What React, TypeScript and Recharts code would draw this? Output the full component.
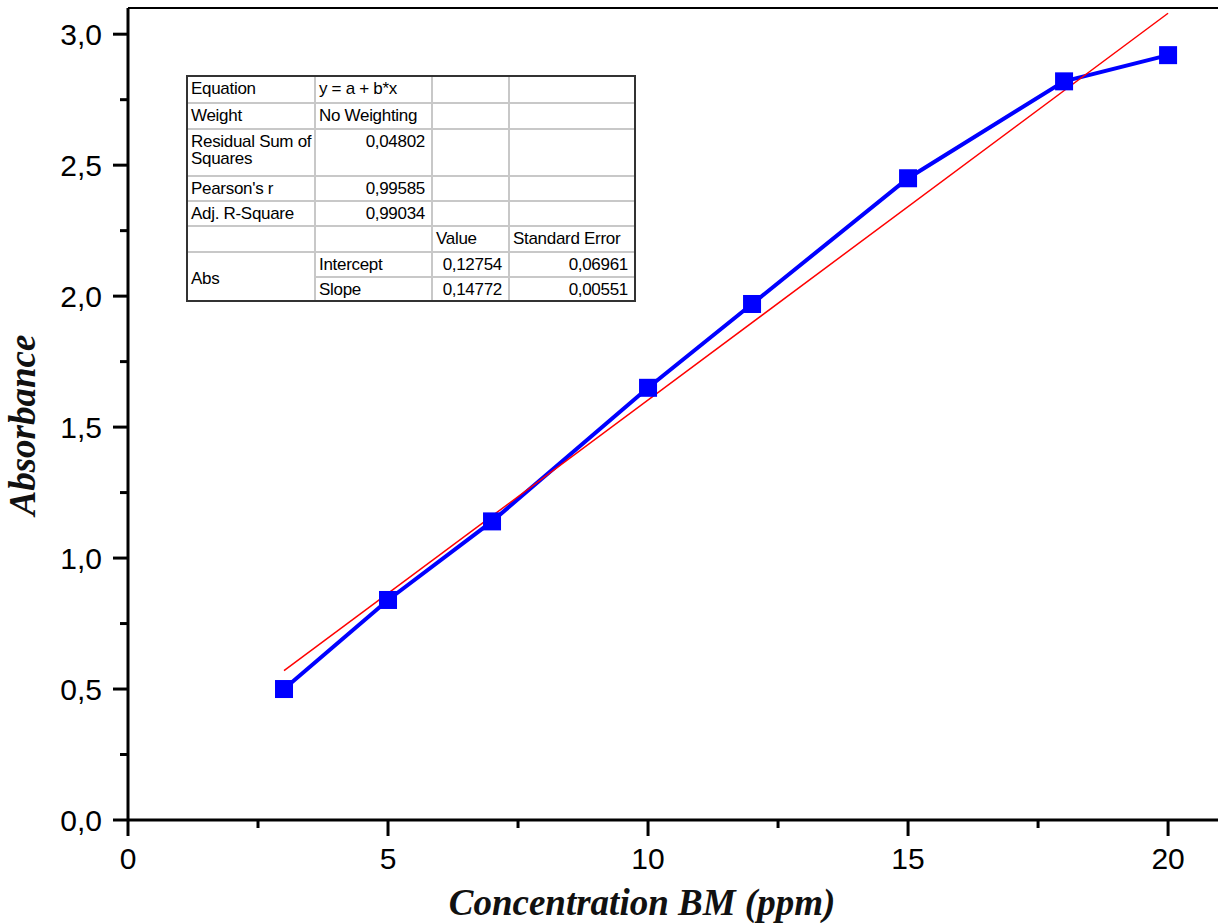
import { ComposedChart, Line, XAxis, YAxis, ReferenceLine } from 'recharts';

// measured points
const concentration = [3, 5, 7, 10, 12, 15, 18, 20];
const absorbance = [0.5, 0.84, 1.14, 1.65, 1.97, 2.45, 2.82, 2.92];

// linear fit line, ends
const fitConcentration = [3, 20];
const fitAbsorbance = [0.57, 3.08];

const xMajorTicks = [0, 5, 10, 15, 20];
const xMinorTicks = [2.5, 7.5, 12.5, 17.5];
const yMajorTicks = [0, 0.5, 1, 1.5, 2, 2.5, 3];
const yMinorTicks = [0.25, 0.75, 1.25, 1.75, 2.25, 2.75];

const tableLabels = [
  'Equation',
  'Weight',
  'Residual Sum of\nSquares',
  "Pearson's r",
  'Adj. R-Square',
];
const tableValues = ['y = a + b*x', 'No Weighting', '0,04802', '0,99585', '0,99034'];
const paramHeaders = ['Value', 'Standard Error'];
const paramNames = ['Intercept', 'Slope'];
const paramValues = ['0,12754', '0,14772'];
const paramErrors = ['0,06961', '0,00551'];

const measured = concentration.map((x, i) => ({ x, y: absorbance[i] }));
const fitted = fitConcentration.map((x, i) => ({ x, y: fitAbsorbance[i] }));

const xTicks = [...xMajorTicks, ...xMinorTicks].sort((a, b) => a - b);
const yTicks = [...yMajorTicks, ...yMinorTicks].sort((a, b) => a - b);

const X_TICK = 16;
const X_MARGIN = 12;
const Y_TICK = 15;
const Y_MARGIN = 11;
const tickFont = '"Liberation Sans", Arial, sans-serif';
const titleFont = '"Liberation Serif", "Times New Roman", serif';

function XTick({ x, y, payload }: any) {
  const v = payload.value;
  const major = xMajorTicks.includes(v);
  const axisY = y - X_TICK - X_MARGIN;
  return (
    <g>
      <line x1={x} x2={x} y1={axisY} y2={axisY + (major ? X_TICK : 8)} stroke="#000" strokeWidth={3} />
      {major && (
        <text x={x} y={y} dy="0.71em" textAnchor="middle" fontSize={30} fontFamily={tickFont} fill="#000">
          {String(v)}
        </text>
      )}
    </g>
  );
}

function YTick({ x, y, payload }: any) {
  const v = payload.value;
  const major = yMajorTicks.includes(v);
  const axisX = x + Y_TICK + Y_MARGIN;
  return (
    <g>
      <line x1={axisX - (major ? Y_TICK : 8)} x2={axisX} y1={y} y2={y} stroke="#000" strokeWidth={3} />
      {major && (
        <text x={x} y={y} dy="0.355em" textAnchor="end" fontSize={30} fontFamily={tickFont} fill="#000">
          {v.toFixed(1).replace('.', ',')}
        </text>
      )}
    </g>
  );
}

function XTitle({ viewBox }: any) {
  return (
    <text
      x={viewBox.x + 514}
      y={viewBox.y + 95}
      textAnchor="middle"
      fontSize={37}
      fontWeight="bold"
      fontStyle="italic"
      fontFamily={titleFont}
      fill="#111"
    >
      Concentration BM (ppm)
    </text>
  );
}

function YTitle({ viewBox }: any) {
  const cx = viewBox.x + 35;
  const cy = viewBox.y + viewBox.height / 2 + 11;
  return (
    <text
      x={cx}
      y={cy}
      transform={`rotate(-90 ${cx} ${cy})`}
      textAnchor="middle"
      fontSize={37}
      fontWeight="bold"
      fontStyle="italic"
      fontFamily={titleFont}
      fill="#111"
    >
      Absorbance
    </text>
  );
}

function SquareDot(props: any) {
  const { cx, cy, index } = props;
  return <rect key={`sq-${index}`} x={cx - 9} y={cy - 9} width={18} height={18} fill="#0000ff" />;
}

const cell: React.CSSProperties = {
  border: '2px solid #c8c8c8',
  padding: '3px 6px 0 3px',
  verticalAlign: 'top',
  whiteSpace: 'pre',
  overflow: 'hidden',
};
const num: React.CSSProperties = { ...cell, textAlign: 'right' };

function FitTable() {
  const rowHeights = [26, 26, 47, 25, 25];
  return (
    <div
      style={{
        position: 'absolute',
        left: 186,
        top: 75,
        border: '2px solid #333',
        background: '#fff',
        fontFamily: tickFont,
        fontSize: 17,
        letterSpacing: '-0.3px',
        lineHeight: '17px',
        color: '#000',
      }}
    >
      <table style={{ borderCollapse: 'collapse', tableLayout: 'fixed', width: 446, borderStyle: 'hidden' }}>
        <colgroup>
          <col style={{ width: 127 }} />
          <col style={{ width: 117 }} />
          <col style={{ width: 77 }} />
          <col style={{ width: 125 }} />
        </colgroup>
        <tbody>
          {tableLabels.map((label, i) => (
            <tr key={label} style={{ height: rowHeights[i] }}>
              <td style={cell}>{label}</td>
              <td style={i < 2 ? cell : num}>{tableValues[i]}</td>
              <td style={cell}></td>
              <td style={cell}></td>
            </tr>
          ))}
          <tr style={{ height: 26 }}>
            <td style={cell}></td>
            <td style={cell}></td>
            <td style={cell}>{paramHeaders[0]}</td>
            <td style={cell}>{paramHeaders[1]}</td>
          </tr>
          {paramNames.map((name, i) => (
            <tr key={name} style={{ height: i === 0 ? 25 : 23 }}>
              {i === 0 && (
                <td rowSpan={2} style={{ ...cell, verticalAlign: 'middle' }}>
                  Abs
                </td>
              )}
              <td style={cell}>{name}</td>
              <td style={num}>{paramValues[i]}</td>
              <td style={num}>{paramErrors[i]}</td>
            </tr>
          ))}
        </tbody>
      </table>
    </div>
  );
}

function App() {
  return (
    <div style={{ position: 'absolute', left: 0, top: 0, width: 1218, height: 923, background: '#fff' }}>
      <ComposedChart width={1218} height={923} margin={{ top: 8, right: 0, bottom: 0, left: 0 }}>
        <XAxis
          dataKey="x"
          type="number"
          domain={[0, 20.96]}
          ticks={xTicks}
          interval={0}
          allowDataOverflow
          height={103}
          tickSize={X_TICK}
          tickMargin={X_MARGIN}
          tickLine={false}
          axisLine={{ stroke: '#000', strokeWidth: 3 }}
          tick={<XTick />}
          label={<XTitle />}
        />
        <YAxis
          type="number"
          domain={[0, 3.1]}
          ticks={yTicks}
          interval={0}
          allowDataOverflow
          width={128}
          tickSize={Y_TICK}
          tickMargin={Y_MARGIN}
          tickLine={false}
          axisLine={{ stroke: '#000', strokeWidth: 3 }}
          tick={<YTick />}
          label={<YTitle />}
        />
        <ReferenceLine y={3.1} stroke="#000" strokeWidth={2} />
        <Line
          data={measured}
          dataKey="y"
          type="linear"
          stroke="#0000ff"
          strokeWidth={4}
          dot={SquareDot}
          activeDot={false}
          isAnimationActive={false}
        />
        <Line
          data={fitted}
          dataKey="y"
          type="linear"
          stroke="#ff0000"
          strokeWidth={1.5}
          dot={false}
          activeDot={false}
          isAnimationActive={false}
        />
      </ComposedChart>
      <FitTable />
    </div>
  );
}

export default App;
